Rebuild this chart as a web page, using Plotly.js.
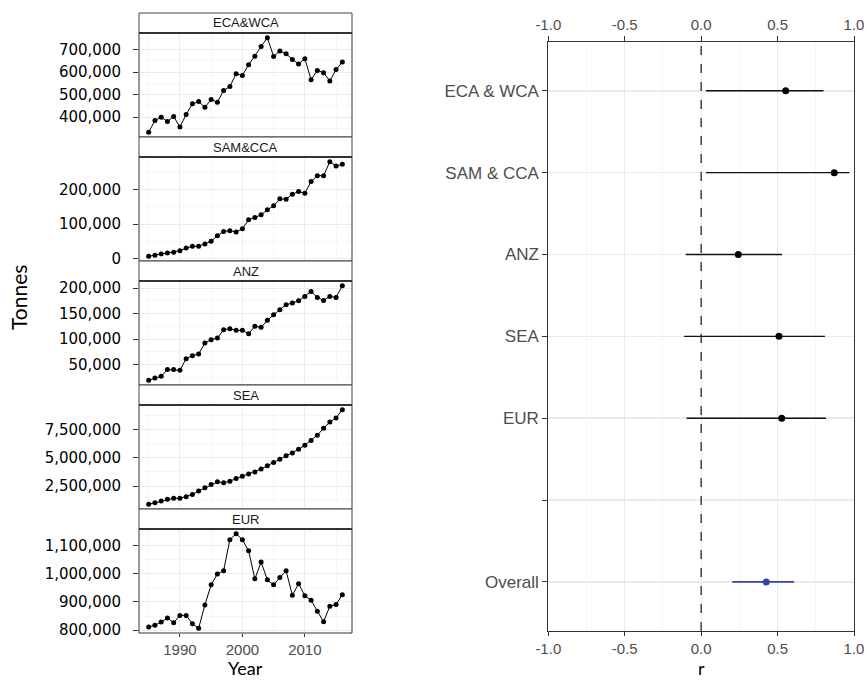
<!DOCTYPE html>
<html><head><meta charset="utf-8">
<script src="https://cdn.plot.ly/plotly-3.0.1.min.js"></script>
<style>html,body{margin:0;padding:0;background:#fff}#chart{width:867px;height:680px}</style>
</head><body><div id="chart"></div>
<script>
// ---------- data ----------
const years = [1985,1986,1987,1988,1989,1990,1991,1992,1993,1994,1995,1996,1997,1998,1999,2000,
               2001,2002,2003,2004,2005,2006,2007,2008,2009,2010,2011,2012,2013,2014,2015,2016];
const regions = ['ECA&WCA','SAM&CCA','ANZ','SEA','EUR'];
const ecaWca = [333000,385000,400000,381000,403000,356000,412000,459000,469000,444000,478000,466000,
                518000,536000,592000,585000,632000,670000,713000,752000,669000,693000,681000,656000,
                636000,659000,566000,607000,597000,560000,611000,644000];
const samCca = [7600,10500,14300,17100,19000,23800,31400,36200,36200,42900,50500,66700,79000,81000,
                77100,86700,112400,119000,126700,141000,152400,172400,171400,185700,193300,188600,
                221900,239000,239000,279000,266700,271400];
const anz = [19400,24000,27200,40300,40300,39000,61800,67600,70900,92400,98900,102200,118500,120500,
             117200,117200,110700,125000,123100,136800,147800,157600,167400,170700,175200,183700,
             193500,181700,175900,183700,181700,204600];
const sea = [901000,1046000,1192000,1337000,1424000,1424000,1570000,1773000,2064000,2355000,2645000,
             2878000,2791000,2936000,3169000,3372000,3576000,3750000,4012000,4302000,4593000,4884000,
             5174000,5420000,5750000,6120000,6520000,7000000,7600000,8150000,8520000,9244000];
const eur = [811600,817400,829000,843000,826700,852300,852300,823200,806900,889500,960400,998800,
             1010400,1119800,1140700,1119800,1080200,981400,1040700,977900,960400,986000,1010400,
             923200,963900,922100,905800,867400,830200,884800,890700,925600];
const series = [ecaWca, samCca, anz, sea, eur];
const yTickStep = [100000, 100000, 50000, 2500000, 100000];
const xTickStep = 10;

const forestLabels = ['ECA & WCA','SAM & CCA','ANZ','SEA','EUR','','Overall'];
const forestRegions = ['ECA & WCA','SAM & CCA','ANZ','SEA','EUR'];
const forestR  = [0.553, 0.871, 0.243, 0.509, 0.527];
const forestLo = [0.031, 0.031, -0.101, -0.113, -0.095];
const forestHi = [0.800, 0.969, 0.529, 0.810, 0.817];
const overallLabel = ['Overall'];
const overallR  = [0.426];
const overallLo = [0.204];
const overallHi = [0.607];
const rTicks = [-1, -0.5, 0, 0.5, 1];
const rTickText = rTicks.map(v => v.toFixed(1));   // plain hyphen minus, as in the reference

// ---------- layout geometry (pixels) ----------
const W = 867, H = 680;
const LX0 = 139, LX1 = 352;
const panelTops = [33, 157, 281, 405, 529];
const PH = 104, SH = 20;
const RX0 = 548.3, RX1 = 854, RY0 = 41.7, RY1 = 631;
const px = v => v / W, py = v => 1 - v / H;

const gridMajor = '#ebebeb', gridMinor = '#f4f4f4', axCol = '#333333';
const tickFontR = {family: 'Liberation Sans, Arial, sans-serif', size: 17, color: '#4d4d4d'};
const tickFontX = {family: 'Liberation Sans, Arial, sans-serif', size: 15, color: '#4d4d4d'};

function padRange(arr) {
  const mn = Math.min(...arr), mx = Math.max(...arr), r = mx - mn;
  return [mn - 0.05 * r, mx + 0.05 * r];
}

const traces = [];
series.forEach((s, i) => {
  traces.push({
    x: years, y: s, xaxis: 'x', yaxis: i === 0 ? 'y' : 'y' + (i + 1),
    mode: 'lines+markers', type: 'scatter',
    line: {color: '#000', width: 1}, marker: {color: '#000', size: 5},
    hoverinfo: 'x+y', showlegend: false
  });
});

const ypos = forestRegions.map(n => forestLabels.indexOf(n));
traces.push({
  x: forestR, y: ypos, xaxis: 'x6', yaxis: 'y6', type: 'scatter', mode: 'markers',
  marker: {color: '#000', size: 7},
  error_x: {type: 'data', symmetric: false,
            array: forestHi.map((h, i) => h - forestR[i]),
            arrayminus: forestLo.map((l, i) => forestR[i] - l),
            width: 0, thickness: 1.4, color: '#111'},
  showlegend: false
});
traces.push({
  x: overallR, y: overallLabel.map(n => forestLabels.indexOf(n)), xaxis: 'x6', yaxis: 'y6',
  type: 'scatter', mode: 'markers',
  marker: {color: '#3343b0', size: 7},
  error_x: {type: 'data', symmetric: false,
            array: overallHi.map((h, i) => h - overallR[i]),
            arrayminus: overallLo.map((l, i) => overallR[i] - l),
            width: 0, thickness: 1.6, color: '#3343b0'},
  showlegend: false
});
// empty trace so the secondary (top) r axis is drawn
traces.push({x: [null], y: [null], xaxis: 'x7', yaxis: 'y6', type: 'scatter', mode: 'markers',
  hoverinfo: 'skip', showlegend: false});

const layout = {
  width: W, height: H, margin: {l: 0, r: 0, t: 0, b: 0},
  paper_bgcolor: '#fff', plot_bgcolor: '#fff', showlegend: false,
  xaxis: {
    domain: [px(LX0), px(LX1)], anchor: 'y5', range: padRange(years),
    tickmode: 'linear', tick0: 1990, dtick: xTickStep,
    ticks: 'outside', ticklen: 3, tickcolor: axCol, tickfont: tickFontX,
    showgrid: true, gridcolor: gridMajor, gridwidth: 1,
    minor: {dtick: xTickStep / 2, showgrid: true, gridcolor: gridMinor, gridwidth: 0.7},
    zeroline: false, showline: false
  },
  xaxis6: {
    domain: [px(RX0), px(RX1)], anchor: 'y6', range: [-1, 1],
    tickmode: 'array', tickvals: rTicks, ticktext: rTickText,
    ticks: 'outside', ticklen: 4, tickcolor: axCol, tickfont: tickFontX,
    showline: true, linecolor: axCol, linewidth: 1,
    showgrid: true, gridcolor: gridMajor, gridwidth: 1,
    minor: {tickvals: [-0.75, -0.25, 0.25, 0.75], showgrid: true, gridcolor: gridMinor, gridwidth: 0.7},
    zeroline: false
  },
  xaxis7: {
    overlaying: 'x6', side: 'top', anchor: 'y6', range: [-1, 1],
    tickmode: 'array', tickvals: rTicks, ticktext: rTickText,
    ticks: 'outside', ticklen: 5, tickcolor: axCol, tickfont: tickFontX,
    showline: true, linecolor: axCol, linewidth: 1, showgrid: false, zeroline: false
  },
  yaxis6: {
    domain: [py(RY1), py(RY0)], anchor: 'x6', range: [forestLabels.length - 0.4, -0.6],
    tickmode: 'array', tickvals: forestLabels.map((_, i) => i), ticktext: forestLabels,
    ticks: 'outside', ticklen: 5, tickcolor: axCol, tickfont: tickFontR,
    showline: true, linecolor: axCol, linewidth: 1, mirror: true,
    showgrid: true, gridcolor: gridMajor, gridwidth: 1.6, zeroline: false
  },
  shapes: [], annotations: []
};

series.forEach((s, i) => {
  const key = i === 0 ? 'yaxis' : 'yaxis' + (i + 1);
  const top = panelTops[i];
  layout[key] = {
    domain: [py(top + PH), py(top)], anchor: 'x', range: padRange(s),
    tickmode: 'linear', tick0: 0, dtick: yTickStep[i], tickformat: ',',
    ticks: 'outside', ticklen: 5, tickcolor: axCol,
    tickfont: {family: 'DejaVu Sans, sans-serif', size: 15, color: '#000'},
    ticklabelstandoff: 9,
    showgrid: true, gridcolor: gridMajor, gridwidth: 1,
    minor: {dtick: yTickStep[i] / 2, showgrid: true, gridcolor: gridMinor, gridwidth: 0.7},
    zeroline: false, showline: false
  };
  // strip
  layout.shapes.push({type: 'rect', xref: 'paper', yref: 'paper', layer: 'above',
    x0: px(LX0), x1: px(LX1), y0: py(top), y1: py(top - SH),
    fillcolor: '#ffffff', line: {color: '#444', width: 1}});
  layout.shapes.push({type: 'line', xref: 'paper', yref: 'paper', layer: 'above',
    x0: px(LX0), x1: px(LX1), y0: py(top), y1: py(top),
    line: {color: '#333', width: 2}});
  // panel border
  layout.shapes.push({type: 'rect', xref: 'paper', yref: 'paper', layer: 'above',
    x0: px(LX0), x1: px(LX1), y0: py(top + PH), y1: py(top),
    fillcolor: 'rgba(0,0,0,0)', line: {color: '#333', width: 1}});
  layout.annotations.push({xref: 'paper', yref: 'paper', x: px((LX0 + LX1) / 2), y: py(top - SH / 2),
    text: regions[i], showarrow: false, xanchor: 'center', yanchor: 'middle',
    font: {family: 'Liberation Sans, Arial, sans-serif', size: 13, color: '#1a1a1a'}});
});

// zero reference line
layout.shapes.push({type: 'line', xref: 'x6', yref: 'y6 domain', x0: 0, x1: 0, y0: 0, y1: 1,
  line: {color: '#333', width: 1.4, dash: 'dash'}});

layout.annotations.push({xref: 'paper', yref: 'paper', x: px(18), y: py(298), text: 'Tonnes',
  textangle: -90, showarrow: false, xanchor: 'center', yanchor: 'middle',
  font: {family: 'Lato, sans-serif', size: 21, color: '#000'}});
layout.annotations.push({xref: 'paper', yref: 'paper', x: px(245), y: 0, text: 'Year',
  showarrow: false, xanchor: 'center', yanchor: 'bottom', borderpad: 0,
  font: {family: 'Lato, sans-serif', size: 18, color: '#000'}});
layout.annotations.push({xref: 'paper', yref: 'paper', x: px(701), y: 0, text: 'r',
  showarrow: false, xanchor: 'center', yanchor: 'bottom', borderpad: 0,
  font: {family: 'Lato, sans-serif', size: 18, color: '#000'}});

Plotly.newPlot('chart', traces, layout, {displayModeBar: false, staticPlot: true});
</script></body></html>
